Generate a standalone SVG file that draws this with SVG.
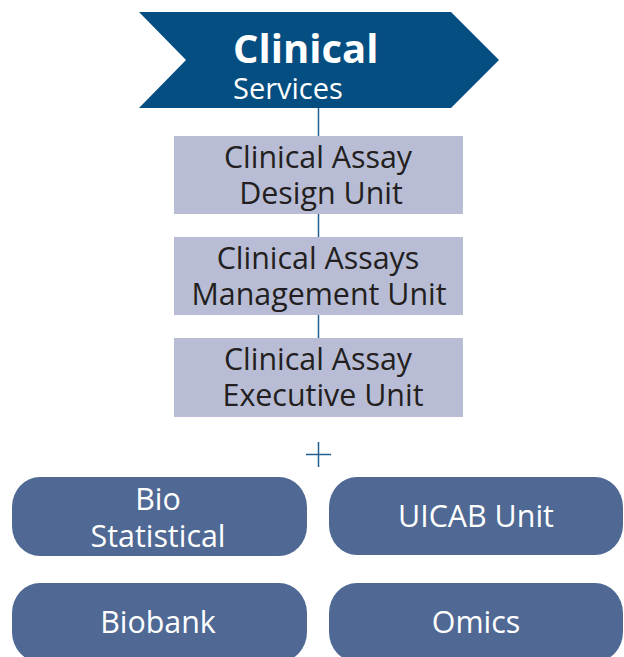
<svg xmlns="http://www.w3.org/2000/svg" width="624" height="657" viewBox="0 0 624 657">
<style>
.unit{fill:#b8bdd5}
.unit-t{font-family:"Open Sans","Liberation Sans",sans-serif;font-size:30.4px;fill:#231f20;text-anchor:middle}
.pill{fill:#4f6994}
.pill-t{font-family:"Open Sans","Liberation Sans",sans-serif;font-size:30.4px;fill:#ffffff;text-anchor:middle}
.conn{stroke:#1f5f91;stroke-width:1.5;fill:none}
</style>
<rect width="624" height="657" fill="#ffffff"/>
<g id="connectors">
<line class="conn" x1="318.5" y1="108" x2="318.5" y2="136"/>
<line class="conn" x1="318.5" y1="214" x2="318.5" y2="237"/>
<line class="conn" x1="318.5" y1="315" x2="318.5" y2="338"/>
</g>
<g id="clinical-services">
<polygon points="139,12 451,12 499,60 451,108 139,108 186,60" fill="#054e81"/>
<text x="233" y="63" font-family="'Open Sans','Liberation Sans',sans-serif" font-size="40" font-weight="bold" fill="#ffffff">Clinical</text>
<text x="233" y="99" font-family="'Open Sans','Liberation Sans',sans-serif" font-size="29" fill="#ffffff">Services</text>
</g>
<g id="design-unit">
<rect class="unit" x="174" y="136" width="289" height="78"/>
<text class="unit-t" x="318" y="168">Clinical Assay</text>
<text class="unit-t" x="321" y="204">Design Unit</text>
</g>
<g id="management-unit">
<rect class="unit" x="174" y="237" width="289" height="78"/>
<text class="unit-t" x="318" y="269">Clinical Assays</text>
<text class="unit-t" x="319" y="305">Management Unit</text>
</g>
<g id="executive-unit">
<rect class="unit" x="174" y="338" width="289" height="79"/>
<text class="unit-t" x="318" y="370">Clinical Assay</text>
<text class="unit-t" x="323" y="406">Executive Unit</text>
</g>
<g id="plus">
<line class="conn" x1="306" y1="454.5" x2="331" y2="454.5"/>
<line class="conn" x1="318.5" y1="442" x2="318.5" y2="467"/>
</g>
<g id="bio-statistical">
<rect class="pill" x="12" y="477" width="295" height="79" rx="28" ry="30"/>
<text class="pill-t" x="158" y="510">Bio</text>
<text class="pill-t" x="158" y="547">Statistical</text>
</g>
<g id="uicab-unit">
<rect class="pill" x="329" y="477" width="294" height="78" rx="28" ry="30"/>
<text class="pill-t" x="476" y="527">UICAB Unit</text>
</g>
<g id="biobank">
<rect class="pill" x="12" y="583" width="295" height="79" rx="28" ry="30"/>
<text class="pill-t" x="158" y="633">Biobank</text>
</g>
<g id="omics">
<rect class="pill" x="329" y="583" width="294" height="79" rx="28" ry="30"/>
<text class="pill-t" x="476" y="633">Omics</text>
</g>
</svg>
